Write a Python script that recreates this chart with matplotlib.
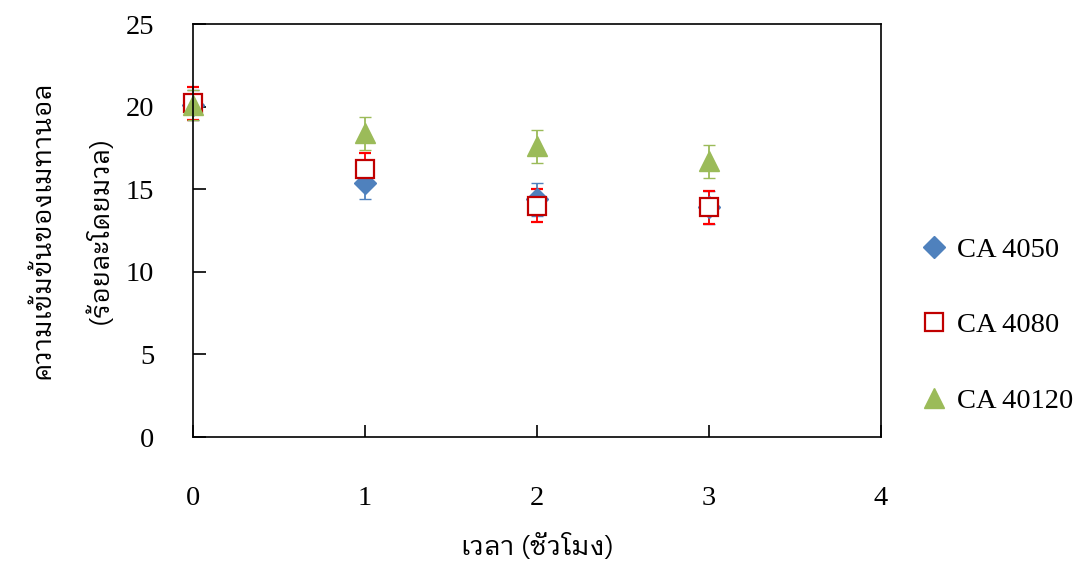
import matplotlib
matplotlib.use("Agg")
import matplotlib.pyplot as plt
from matplotlib import font_manager
from matplotlib.ft2font import FT2Font
from matplotlib.lines import Line2D

# data
hours = [0, 1, 2, 3]
ca4050 = [20.1, 15.4, 14.4, 13.9]
ca4050_err = [0.9, 1.0, 1.0, 1.0]
ca4080 = [20.2, 16.2, 14.0, 13.9]
ca4080_err = [1.0, 1.0, 1.0, 1.0]
ca40120 = [20.1, 18.4, 17.6, 16.7]
ca40120_err = [0.9, 1.0, 1.0, 1.0]
labels = ["CA 4050", "CA 4080", "CA 40120"]


def find_thai_font():
    found = []
    for f in font_manager.fontManager.ttflist:
        try:
            if FT2Font(f.fname).get_char_index(0x0E01):
                found.append(f.name)
        except Exception:
            pass
    for pref in ["Looped", "Serif", "Sarabun", "Norasi", "Loma", "Garuda"]:
        for n in found:
            if pref in n:
                return n
    return found[0] if found else "DejaVu Sans"


thai_font = find_thai_font()
thai_family = [thai_font, "Liberation Serif", "DejaVu Sans"]

plt.rcParams["font.family"] = ["Liberation Serif", "DejaVu Serif"]

fig = plt.figure(figsize=(10.79, 5.61), dpi=100)
ax = fig.add_axes([0.1789, 0.221, 0.6376, 0.736])

styles = [
    dict(marker="D", ms=11.5, color="#4F81BD", mfc="#4F81BD", mec="#4F81BD", mew=1.0),
    dict(marker="s", ms=13.5, color="#C00000", mfc="white", mec="#C00000", mew=1.6),
    dict(marker="^", ms=14.5, color="#9BBB59", mfc="#9BBB59", mec="#9BBB59", mew=1.0),
]
err_colors = ["#4F81BD", "#FF0000", "#9BBB59"]

for vals, errs, st, ec in zip([ca4050, ca4080, ca40120],
                              [ca4050_err, ca4080_err, ca40120_err], styles, err_colors):
    eb = ax.errorbar(hours, vals, yerr=errs, fmt=st["marker"], ms=st["ms"], mfc=st["mfc"],
                     mec=st["mec"], mew=st["mew"], ecolor=ec, elinewidth=1.3,
                     capsize=4.5, capthick=1.3)
    for art in eb.lines[0:1] + tuple(eb.lines[1]) + tuple(eb.lines[2]):
        art.set_clip_on(False)

ax.set_xlim(0, 4)
ax.set_ylim(0, 25)
ax.set_xticks([0, 1, 2, 3, 4])
ax.set_yticks([0, 5, 10, 15, 20, 25])
ax.tick_params(axis="both", direction="in", length=9, width=1.2, labelsize=20.5)
ax.tick_params(axis="x", pad=35)
ax.tick_params(axis="y", pad=28)
for s in ax.spines.values():
    s.set_linewidth(1.2)

ax.set_xlabel("เวลา (ชั่วโมง)", family=thai_family, fontsize=19.5, labelpad=16)
fig.text(0.066, 0.59, "ความเข้มข้นของเมทานอล\n(ร้อยละโดยมวล)", family=thai_family,
         fontsize=19, rotation=90, ha="center", va="center", linespacing=2.35)

handles = [Line2D([], [], linestyle="none", marker=st["marker"], ms=st["ms"],
                  mfc=st["mfc"], mec=st["mec"], mew=st["mew"]) for st in styles]
fig.legend(handles, labels, loc="center left", bbox_to_anchor=(0.829, 0.42), frameon=False,
           fontsize=20.5, labelspacing=1.75, handlelength=1.0, handletextpad=0.3,
           numpoints=1)

fig.savefig("out.png", dpi=100)
